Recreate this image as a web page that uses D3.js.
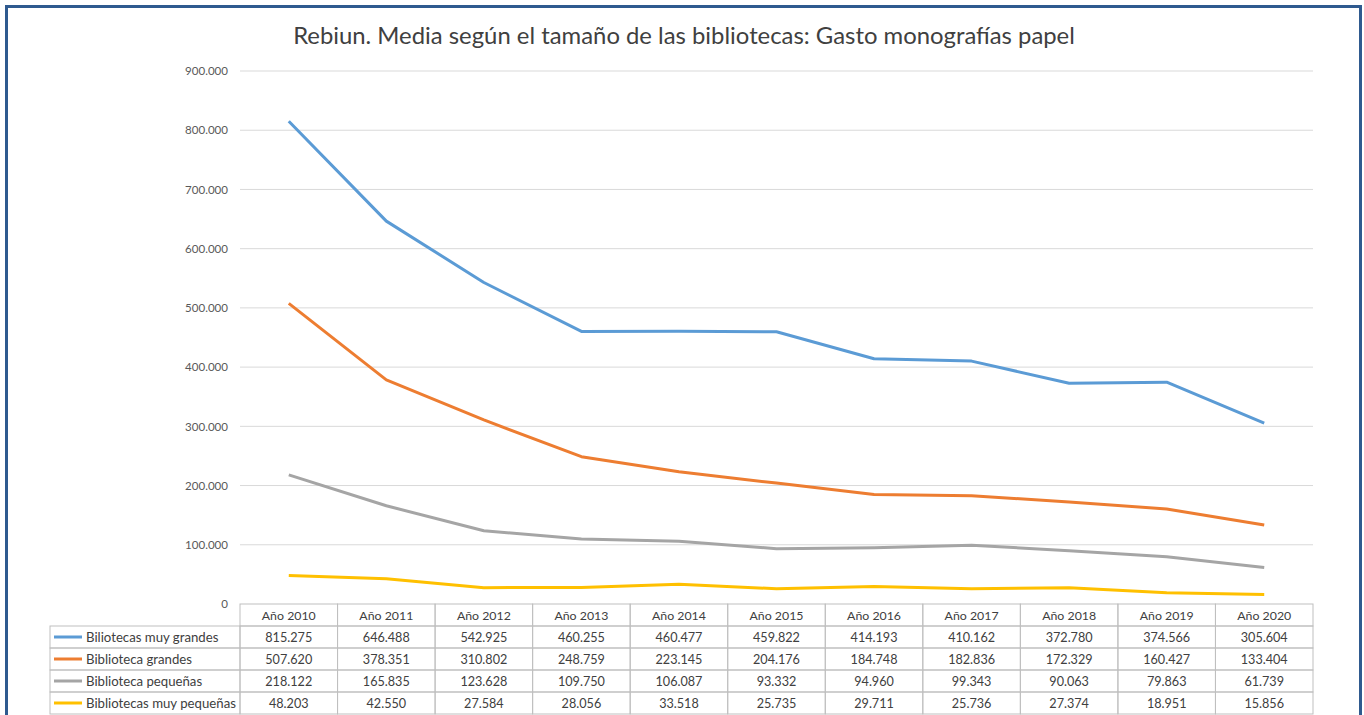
<!DOCTYPE html>
<html><head><meta charset="utf-8">
<script src="https://cdn.jsdelivr.net/npm/d3@7/dist/d3.min.js"></script>
<style>
html,body{margin:0;padding:0;background:#fff;}
svg{display:block;}
</style></head>
<body>
<svg id="c" width="1364" height="715"></svg>
<script>
const title = "Rebiun. Media según el tamaño de las bibliotecas: Gasto monografías papel";
const years = ["Año 2010","Año 2011","Año 2012","Año 2013","Año 2014","Año 2015","Año 2016","Año 2017","Año 2018","Año 2019","Año 2020"];
const seriesNames = ["Biliotecas muy grandes","Biblioteca grandes","Biblioteca pequeñas","Bibliotecas muy pequeñas"];
const muyGrandes = [815275,646488,542925,460255,460477,459822,414193,410162,372780,374566,305604];
const grandes = [507620,378351,310802,248759,223145,204176,184748,182836,172329,160427,133404];
const pequenas = [218122,165835,123628,109750,106087,93332,94960,99343,90063,79863,61739];
const muyPequenas = [48203,42550,27584,28056,33518,25735,29711,25736,27374,18951,15856];
const yTicks = [0,100000,200000,300000,400000,500000,600000,700000,800000,900000];
const colors = ["#5b9bd5","#ed7d31","#a5a5a5","#ffc000"];
const seriesValues = [muyGrandes, grandes, pequenas, muyPequenas];

const loc = d3.formatLocale({decimal:",", thousands:".", grouping:[3], currency:["","€"]});
const fmt = loc.format(",.0f");

const svg = d3.select("#c");
const font = "Lato, 'Open Sans', sans-serif";

// measure helper: font size so that sample text reaches target width
function fitSize(sample, target, base){
  const t = svg.append("text").attr("font-family",font).attr("font-size",base).text(sample);
  const w = t.node().getComputedTextLength();
  t.remove();
  return base*target/w;
}
const titleSize = fitSize(title, 782, 22);
const legendSize = fitSize("Bibliotecas muy pequeñas", 150, 13);
const cellSize = fitSize("815.275", 47, 13);
const headSize = fitSize("Año 2010", 54, 13);
const axisSize = fitSize("900.000", 43, 11);

// frame
svg.append("rect").attr("x",6.5).attr("y",6.5).attr("width",1354).attr("height",720)
  .attr("fill","none").attr("stroke","#2f5a8f").attr("stroke-width",3);

const x0 = 240, x1 = 1313, yTop = 71, yBot = 604;
const x = d3.scaleBand().domain(years).range([x0, x1]);
const y = d3.scaleLinear().domain([0, 900000]).range([yBot, yTop]);

// title
svg.append("text").attr("x",684).attr("y",44).attr("text-anchor","middle")
  .attr("font-family",font).attr("font-size",titleSize).attr("fill","#404040").text(title);

// gridlines
svg.append("g").selectAll("line").data(yTicks.filter(d=>d>0)).join("line")
  .attr("x1",x0).attr("x2",x1).attr("y1",d=>y(d)).attr("y2",d=>y(d))
  .attr("stroke","#d9d9d9").attr("stroke-width",1);

// y axis labels
const yAxis = d3.axisLeft(y).tickValues(yTicks).tickFormat(d=>fmt(d)).tickSize(0).tickPadding(12);
const ga = svg.append("g").attr("transform",`translate(${x0},0)`).call(yAxis);
ga.select(".domain").remove();
ga.selectAll("text").attr("font-family",font).attr("font-size",axisSize).attr("fill","#595959");

// lines
const line = d3.line().x((d,i)=>x(years[i])+x.bandwidth()/2).y(d=>y(d));
seriesValues.forEach((vals,k)=>{
  svg.append("path").datum(vals).attr("d",line).attr("fill","none")
    .attr("stroke",colors[k]).attr("stroke-width",3).attr("stroke-linejoin","round");
});

// table
const rowH = 22, tLeft = 50;
const tb = svg.append("g");
const stroke = "#bfbfbf";
years.forEach(yr=>{
  tb.append("rect").attr("x",x(yr)).attr("y",yBot).attr("width",x.bandwidth()).attr("height",rowH)
    .attr("fill","none").attr("stroke",stroke);
  tb.append("text").attr("x",x(yr)+x.bandwidth()/2).attr("y",yBot+rowH/2+5).attr("text-anchor","middle")
    .attr("font-family",font).attr("font-size",headSize).attr("fill","#404040").text(yr);
});
seriesNames.forEach((nm,k)=>{
  const ry = yBot + rowH*(k+1);
  tb.append("rect").attr("x",tLeft).attr("y",ry).attr("width",x0-tLeft).attr("height",rowH)
    .attr("fill","none").attr("stroke",stroke);
  tb.append("line").attr("x1",tLeft+4).attr("x2",tLeft+32).attr("y1",ry+rowH/2).attr("y2",ry+rowH/2)
    .attr("stroke",colors[k]).attr("stroke-width",3);
  tb.append("text").attr("x",tLeft+36).attr("y",ry+rowH/2+5)
    .attr("font-family",font).attr("font-size",legendSize).attr("fill","#404040").text(nm);
  years.forEach((yr,i)=>{
    tb.append("rect").attr("x",x(yr)).attr("y",ry).attr("width",x.bandwidth()).attr("height",rowH)
      .attr("fill","none").attr("stroke",stroke);
    tb.append("text").attr("x",x(yr)+x.bandwidth()/2).attr("y",ry+rowH/2+5).attr("text-anchor","middle")
      .attr("font-family",font).attr("font-size",cellSize).attr("fill","#404040").text(fmt(seriesValues[k][i]));
  });
});
</script>
</body></html>
